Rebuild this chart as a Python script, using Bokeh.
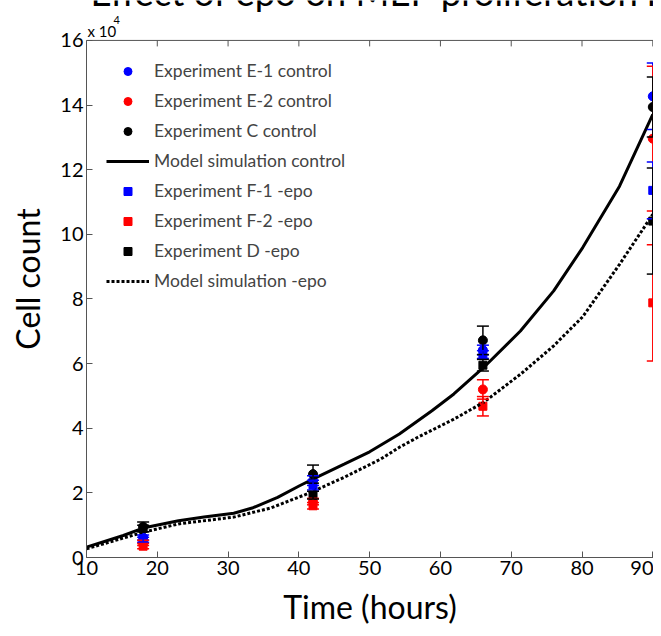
from bokeh.plotting import figure
from bokeh.models import (ColumnDataSource, Whisker, TeeHead, Label, Span,
                          FixedTicker, Range1d, Legend)
from bokeh.embed import file_html
from bokeh.resources import INLINE

# ---- data (cell count in units of 10^4) ----
time_points = [18, 42, 66, 90]

e1_ctrl = [0.62, 2.38, 6.42, 14.27]
e1_err = [0.08, 0.15, 0.15, 1.03]
e2_ctrl = [0.45, 1.73, 5.20, 12.96]
e2_err = [0.08, 0.10, 0.30, 2.24]
c_ctrl = [0.95, 2.58, 6.72, 13.94]
c_err = [0.15, 0.28, 0.44, 0.93]
f1_epo = [0.55, 2.24, 6.28, 11.36]
f1_err = [0.08, 0.15, 0.12, 0.88]
f2_epo = [0.35, 1.60, 4.68, 7.88]
f2_err = [0.08, 0.10, 0.30, 1.80]
d_epo = [0.90, 1.93, 5.95, 10.41]
d_err = [0.10, 0.12, 0.18, 1.64]

ctrl_t = [10, 15.2, 18, 23, 26.6, 30.8, 33.4, 37, 40.1, 42.2, 46.4, 50, 54.2,
          58.8, 61.9, 66.1, 71.3, 76, 80.1, 85.3, 90]
model_ctrl = [0.32, 0.68, 0.91, 1.14, 1.25, 1.37, 1.53, 1.86, 2.22, 2.45, 2.89,
              3.27, 3.82, 4.54, 5.06, 5.88, 7.01, 8.25, 9.59, 11.49, 13.71]
epo_t = [10, 18, 23, 30.8, 36, 41.2, 46.4, 51.6, 54.2, 56.8, 61.9, 66.1, 71.3,
         76, 80.1, 85.3, 90]
model_epo = [0.27, 0.78, 1.04, 1.25, 1.53, 1.97, 2.48, 3.05, 3.41, 3.72, 4.28,
             4.80, 5.67, 6.55, 7.45, 9.07, 10.62]

x_ticks = [10, 20, 30, 40, 50, 60, 70, 80, 90]
y_ticks = [0, 2, 4, 6, 8, 10, 12, 14, 16]
Y_MAX = 16

TITLE = "Effect of epo on MEP proliferation in vitro"
FONT = "Lato"
BLUE, RED, BLACK = "#0000ff", "#ff0000", "#000000"
AXC = "#555555"

# layout (pixels)
W, H = 653, 628
BORDER_L, BORDER_B = 86, 70
HEADER = 40                      # space between canvas top and the y=16 line
FRAME_H = H - BORDER_B           # frame reaches the canvas top
AX_H = FRAME_H - HEADER          # height of the 0..16 axis box
Y_TOP = Y_MAX * FRAME_H / AX_H   # data value at canvas top
TICK_LEN = 6 * Y_MAX / AX_H      # 6px inward tick in data units

p = figure(width=W, height=H, output_backend="svg", toolbar_location=None,
           x_range=Range1d(10, 90.1), y_range=Range1d(0, Y_TOP),
           min_border_left=BORDER_L, min_border_right=0, min_border_top=0,
           min_border_bottom=BORDER_B)
p.xgrid.visible = False
p.ygrid.visible = False
p.outline_line_color = None
p.background_fill_color = "white"

for ax in (p.xaxis[0], p.yaxis[0]):
    ax.major_label_text_font = FONT
    ax.major_label_text_font_size = "20px"
    ax.major_label_text_color = "black"
    ax.axis_line_color = AXC
    ax.major_tick_line_color = AXC
    ax.major_tick_in = 6
    ax.major_tick_out = 0
    ax.minor_tick_line_color = None
    ax.axis_label_text_font = FONT
    ax.axis_label_text_font_size = "32px"
    ax.axis_label_text_font_style = "normal"
    ax.axis_label_text_color = "black"

p.xaxis.ticker = FixedTicker(ticks=x_ticks)
p.yaxis.ticker = FixedTicker(ticks=y_ticks)
p.yaxis.bounds = (0, Y_MAX)
p.xaxis.axis_label = "Time (hours)"
p.yaxis.axis_label = "Cell count"
p.xaxis.major_label_standoff = 3
p.yaxis.major_label_standoff = 3
p.xaxis.axis_label_standoff = 9
p.yaxis.axis_label_standoff = 10

# top edge of the axes box with inward ticks
p.add_layout(Span(location=Y_MAX, dimension="width", line_color=AXC, line_width=1))
p.segment(x0=x_ticks, x1=x_ticks, y0=[Y_MAX] * len(x_ticks),
          y1=[Y_MAX - TICK_LEN] * len(x_ticks), line_color=AXC, line_width=1)

# error bars
series = [
    (e1_ctrl, e1_err, BLUE), (e2_ctrl, e2_err, RED), (c_ctrl, c_err, BLACK),
    (f1_epo, f1_err, BLUE), (f2_epo, f2_err, RED), (d_epo, d_err, BLACK),
]
for vals, errs, col in series:
    src = ColumnDataSource(dict(x=time_points,
                                lo=[v - e for v, e in zip(vals, errs)],
                                hi=[v + e for v, e in zip(vals, errs)]))
    w = Whisker(source=src, base="x", lower="lo", upper="hi", dimension="height",
                line_color=col, line_width=1.5,
                upper_head=TeeHead(size=12, line_color=col, line_width=1.5),
                lower_head=TeeHead(size=12, line_color=col, line_width=1.5),
                level="glyph")
    p.add_layout(w)

r1 = p.scatter(time_points, e1_ctrl, marker="circle", size=9, color=BLUE)
r2 = p.scatter(time_points, e2_ctrl, marker="circle", size=9, color=RED)
r3 = p.scatter(time_points, c_ctrl, marker="circle", size=9, color=BLACK)
r4 = p.line(ctrl_t, model_ctrl, line_color=BLACK, line_width=3)
r5 = p.scatter(time_points, f1_epo, marker="square", size=8, color=BLUE)
r6 = p.scatter(time_points, f2_epo, marker="square", size=8, color=RED)
r7 = p.scatter(time_points, d_epo, marker="square", size=8, color=BLACK)
r8 = p.line(epo_t, model_epo, line_color=BLACK, line_width=3, line_dash="3 2")

legend = Legend(items=[
    ("Experiment E-1 control", [r1]),
    ("Experiment E-2 control", [r2]),
    ("Experiment C control", [r3]),
    ("Model simulation control", [r4]),
    ("Experiment F-1 -epo", [r5]),
    ("Experiment F-2 -epo", [r6]),
    ("Experiment D -epo", [r7]),
    ("Model simulation -epo", [r8]),
], location=(20, 266), background_fill_alpha=0, border_line_alpha=0,
    padding=0, margin=0, spacing=9, glyph_width=43, glyph_height=20,
    label_height=20, label_standoff=5, label_text_font=FONT,
    label_text_font_size="17.5px")
p.add_layout(legend, "center")

# header texts (screen px from the frame's bottom-left; the renderer places the
# baseline about 0.43 em lower than requested, so that is compensated here)
p.add_layout(Label(x=4, y=FRAME_H - 8.5 + 0.43 * 36.5, x_units="screen",
                   y_units="screen", text=TITLE, text_font=FONT,
                   text_font_size="36.5px", text_baseline="alphabetic",
                   text_color="black"))
p.add_layout(Label(x=1, y=FRAME_H - 38 + 0.43 * 15, x_units="screen",
                   y_units="screen", text="x 10", text_font=FONT,
                   text_font_size="15px", text_baseline="alphabetic",
                   text_color="black"))
p.add_layout(Label(x=27, y=FRAME_H - 25 + 0.43 * 11, x_units="screen",
                   y_units="screen", text="4", text_font=FONT,
                   text_font_size="11px", text_baseline="alphabetic",
                   text_color="black"))

open("out.html", "w").write(file_html(p, INLINE))
